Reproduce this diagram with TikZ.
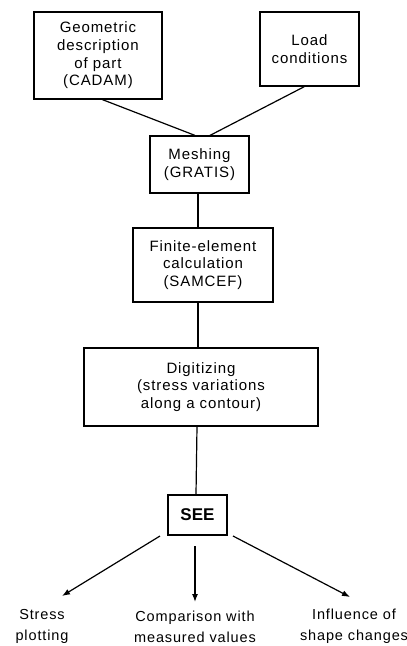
\documentclass[tikz,border=0pt]{standalone}
\usepackage{fontspec}
\setmainfont{Liberation Sans}
\newfontfamily\boxfont[LetterSpace=6]{Liberation Sans}
\usetikzlibrary{arrows.meta}
\begin{document}
\begin{tikzpicture}[x=1pt,y=-1pt,
  stage/.style={draw,line width=1.2pt,inner sep=0pt,align=center,
    font={\boxfont\fontsize{15}{17.7}\selectfont}},
  outcome/.style={inner sep=0pt,align=center,
    font={\boxfont\fontsize{14.5}{21}\selectfont}},
  link/.style={line width=1.2pt},
  flow/.style={line width=1.2pt,-{Latex[length=8pt,width=6pt]}}]
\useasboundingbox (0,0) rectangle (407,646);

% processing stages
\node[stage,minimum width=128pt,minimum height=87pt] (geo) at (98,55.5)
  {Geometric\\description\\of part\\(CADAM)};
\node[stage,minimum width=99pt,minimum height=74pt] (load) at (309.5,49)
  {Load\\conditions};
\node[stage,minimum width=99pt,minimum height=57pt] (mesh) at (199.5,164.5)
  {Meshing\\(GRATIS)};
\node[stage,minimum width=140pt,minimum height=74pt] (fem) at (203,265)
  {Finite-element\\calculation\\(SAMCEF)};
\node[stage,minimum width=234pt,minimum height=78pt] (dig) at (201,387)
  {Digitizing\\(stress variations\\along a contour)};
\node[draw,line width=1.2pt,minimum width=59pt,minimum height=40pt,inner sep=0pt,
  font={\bfseries\fontsize{17}{20}\selectfont}] (see) at (197.5,515) {SEE};

% results produced by SEE
\node[outcome] (plot) at (42,626.5) {Stress\\plotting};
\node[outcome] (comp) at (195,626.5) {Comparison with\\measured values};
\node[outcome] (infl) at (354,626.5) {Influence of\\shape changes};

% connections between stages
\draw[link] (geo.south west) ++(69,0) coordinate (g1) -- ([xshift=-4.5pt]mesh.north);
\draw[link] (load.south west) ++(45,0) coordinate (l1) -- ([xshift=10.5pt]mesh.north);
\draw[link] ([xshift=-1.5pt]mesh.south) -- ([xshift=-5pt]fem.north);
\draw[link] ([xshift=-5pt]fem.south) -- ([xshift=-3pt]dig.north);
\draw[link] ([xshift=-4pt]dig.south) -- ([xshift=-1.5pt]see.north);

% arrows to the results
\coordinate (sl) at (160,536);
\coordinate (el) at (62,596);
\coordinate (sm) at (195,546);
\coordinate (em) at (195,602);
\coordinate (sr) at (233,536);
\coordinate (er) at (350,597);
\draw[flow] (sl) -- (el);
\draw[flow] (sm) -- (em);
\draw[flow] (sr) -- (er);
\end{tikzpicture}
\end{document}
